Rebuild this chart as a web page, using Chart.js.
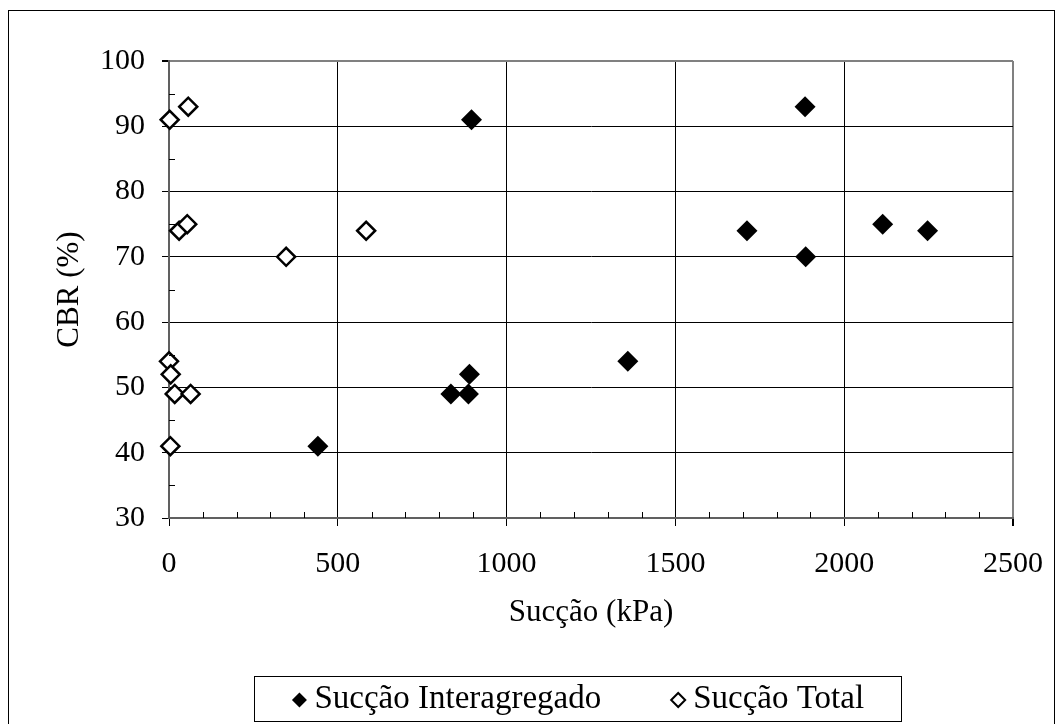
<!DOCTYPE html>
<html>
<head>
<meta charset="utf-8">
<script src="https://cdn.jsdelivr.net/npm/chart.js@4.4.0/dist/chart.umd.min.js"></script>
<style>
  body { margin: 0; background: #fff; }
</style>
</head>
<body>
<canvas id="cbrChart" width="1063" height="724"></canvas>
<script>
// Sucção Interagregado (filled diamonds)
const interX = [441, 835, 887, 890, 896, 1359, 1712, 1884, 1886, 2114, 2247];
const interY = [41, 49, 49, 52, 91, 54, 74, 93, 70, 75, 74];
// Sucção Total (open diamonds)
const totalX = [2, 57, 30, 54, 347, 584, 0, 5, 17, 64, 4];
const totalY = [91, 93, 74, 75, 70, 74, 54, 52, 49, 49, 41];

const seriesLabels = ["Sucção Interagregado", "Sucção Total"];
const xTitle = "Sucção (kPa)";
const yTitle = "CBR (%)";

const serif = "'Liberation Serif', 'Times New Roman', serif";

function toPoints(xs, ys) {
  return xs.map((x, i) => ({ x: x, y: ys[i] }));
}

// outer frame of the chart
const framePlugin = {
  id: "frame",
  beforeDraw(chart) {
    const c = chart.ctx;
    c.save();
    c.fillStyle = "#fff";
    c.fillRect(0, 0, chart.width, chart.height);
    c.strokeStyle = "#000";
    c.lineWidth = 1;
    c.strokeRect(8.5, 10.5, 1046, 730);
    c.restore();
  },
};

// small inside ticks (x every 100, y every 5)
const minorTickPlugin = {
  id: "minorTicks",
  afterDraw(chart) {
    const c = chart.ctx;
    const xs = chart.scales.x, ys = chart.scales.y;
    const area = chart.chartArea;
    c.save();
    c.strokeStyle = "#000";
    c.lineWidth = 1;
    c.beginPath();
    for (let v = 100; v < 2500; v += 100) {
      if (v % 500 === 0) continue;
      const px = Math.round(xs.getPixelForValue(v)) + 0.5;
      c.moveTo(px, area.bottom);
      c.lineTo(px, area.bottom - 6);
    }
    for (let v = 35; v < 100; v += 10) {
      const py = Math.round(ys.getPixelForValue(v)) + 0.5;
      c.moveTo(area.left, py);
      c.lineTo(area.left + 6, py);
    }
    c.stroke();
    c.restore();
  },
};

// boxed legend below the axis title
const boxLegendPlugin = {
  id: "boxLegend",
  afterDraw(chart) {
    const c = chart.ctx;
    const box = { left: 254.5, top: 676.5, right: 901.5, bottom: 721.5 };
    c.save();
    c.fillStyle = "#fff";
    c.fillRect(box.left, box.top, box.right - box.left, box.bottom - box.top);
    c.strokeStyle = "#000";
    c.lineWidth = 1;
    c.strokeRect(box.left, box.top, box.right - box.left, box.bottom - box.top);

    c.font = "33px " + serif;
    c.textBaseline = "middle";
    const markW = 15, markGap = 7.5, itemGap = 69.5;
    const items = chart.data.datasets.map((ds) => ({
      ds: ds,
      w: markW + markGap + c.measureText(ds.label).width,
    }));
    const total = items.reduce((s, it) => s + it.w, 0) + itemGap * (items.length - 1);
    let x = (box.left + box.right) / 2 - total / 2;
    const cy = (box.top + box.bottom) / 2 + 1;
    items.forEach((it) => {
      const filled = it.ds.backgroundColor === "#000";
      c.fillStyle = it.ds.backgroundColor;
      c.strokeStyle = "#000";
      c.lineWidth = filled ? 0 : 2;
      Chart.helpers.drawPoint(c, {
        pointStyle: "rectRot",
        radius: filled ? 7.5 : 7,
        borderWidth: filled ? 0 : 2,
      }, x + markW / 2, cy);
      c.fillStyle = "#000";
      c.fillText(it.ds.label, x + markW + markGap, cy - 1);
      x += it.w + itemGap;
    });
    c.restore();
  },
};

window.onload = function () {
  const ctx = document.getElementById("cbrChart").getContext("2d");
  new Chart(ctx, {
    type: "scatter",
    data: {
      datasets: [
        {
          label: seriesLabels[0],
          data: toPoints(interX, interY),
          pointStyle: "rectRot",
          pointRadius: 10.5,
          pointHoverRadius: 10.5,
          backgroundColor: "#000",
          borderColor: "#000",
          borderWidth: 0,
          clip: false,
        },
        {
          label: seriesLabels[1],
          data: toPoints(totalX, totalY),
          pointStyle: "rectRot",
          pointRadius: 9,
          pointHoverRadius: 9,
          backgroundColor: "#fff",
          borderColor: "#000",
          borderWidth: 2.5,
          clip: false,
        },
      ],
    },
    options: {
      responsive: false,
      animation: false,
      layout: { padding: { top: 61, left: 0, right: 48, bottom: 86 } },
      plugins: {
        legend: { display: false },
        tooltip: { enabled: false },
      },
      scales: {
        x: {
          type: "linear",
          min: 0,
          max: 2500,
          afterFit: (s) => { s.height = 120; },
          ticks: {
            stepSize: 500,
            padding: 20,
            color: "#000",
            font: { family: serif, size: 30 },
            callback: (v) => String(v),
          },
          grid: {
            color: (c) => (c.tick && c.tick.value === 2500 ? "#808080" : "#000"),
            lineWidth: (c) => (c.tick && c.tick.value === 2500 ? 2 : 1),
            tickColor: "#000",
            tickLength: 8,
          },
          border: { color: "#606060", width: 2 },
          title: {
            display: true,
            text: xTitle,
            color: "#000",
            font: { family: serif, size: 31 },
            padding: { top: 0, bottom: 7 },
          },
        },
        y: {
          type: "linear",
          min: 30,
          max: 100,
          afterFit: (s) => { s.width = 169; },
          ticks: {
            stepSize: 10,
            padding: 17,
            color: "#000",
            font: { family: serif, size: 30 },
            callback: (v) => String(v),
          },
          grid: {
            color: (c) => (c.tick && c.tick.value === 100 ? "#808080" : "#000"),
            lineWidth: (c) => (c.tick && c.tick.value === 100 ? 2 : 1),
            tickColor: "#000",
            tickLength: 7,
          },
          border: { color: "#606060", width: 2 },
          title: {
            display: true,
            text: yTitle,
            color: "#000",
            font: { family: serif, size: 31 },
            padding: { top: 51, bottom: 0 },
          },
        },
      },
    },
    plugins: [framePlugin, minorTickPlugin, boxLegendPlugin],
  });
};
</script>
</body>
</html>
